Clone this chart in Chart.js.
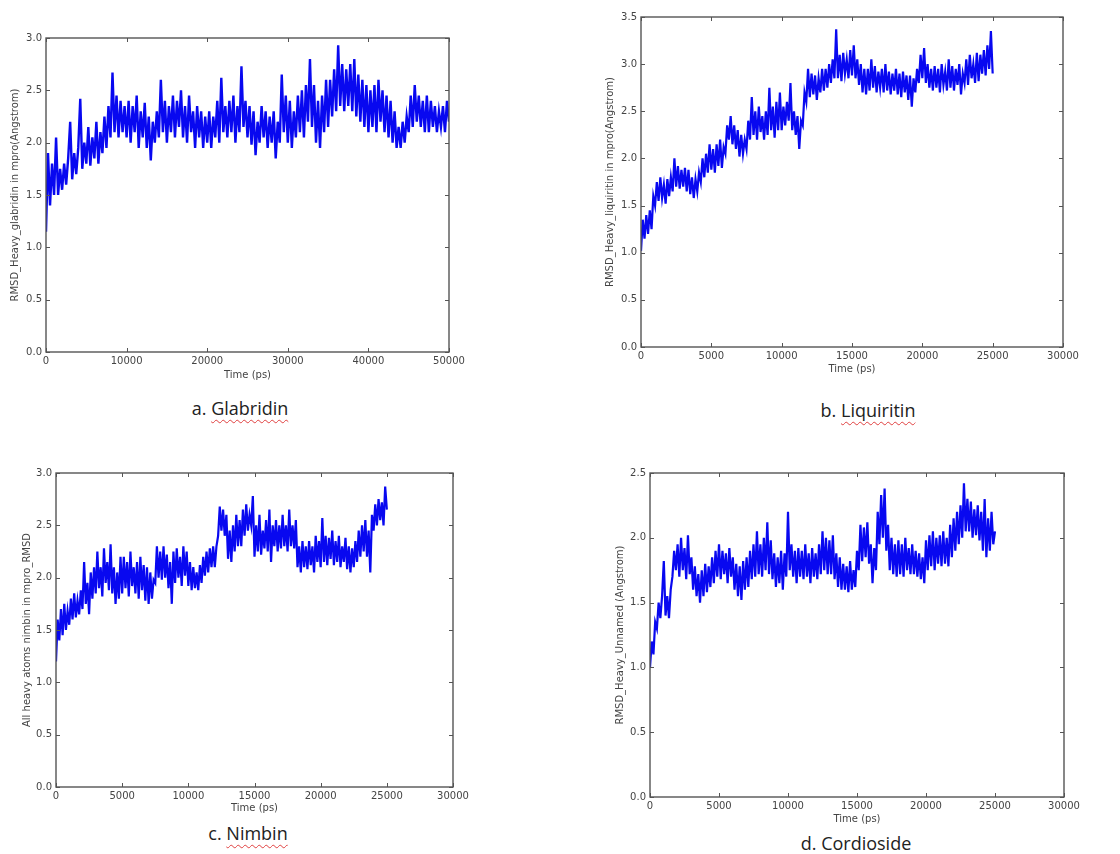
<!DOCTYPE html>
<html>
<head>
<meta charset="utf-8">
<script src="https://cdn.jsdelivr.net/npm/chart.js@4.4.1/dist/chart.umd.min.js"></script>
<style>
  html, body { margin: 0; padding: 0; background: #fff; }
  body { width: 1120px; height: 854px; position: relative; overflow: hidden; }
  canvas { position: absolute; }
  .cap { position: absolute; width: 240px; text-align: center; font-family: "Open Sans", sans-serif; font-size: 18px; line-height: 24px; color: #222; }
  .cap span { text-decoration: underline wavy #e04040; text-decoration-thickness: 1px; text-underline-offset: 4px; }
</style>
</head>
<body>
<canvas id="ca" width="469" height="353" style="left:0px;top:28px"></canvas>
<canvas id="cb" width="488" height="368" style="left:595px;top:7px"></canvas>
<canvas id="cc" width="463" height="351" style="left:10px;top:463px"></canvas>
<canvas id="cd" width="480" height="362" style="left:604px;top:463px"></canvas>
<div class="cap" style="left:120px;top:396px">a. <span>Glabridin</span></div>
<div class="cap" style="left:748px;top:398px">b. <span>Liquiritin</span></div>
<div class="cap" style="left:128px;top:821px">c. <span>Nimbin</span></div>
<div class="cap" style="left:736px;top:831px">d. <span>Cordioside</span></div>
<script>
// ---------- data ----------
// a. Glabridin: RMSD sampled every 250 ps, 0..50000 ps
const glabridinStep = 250;
const glabridinRmsd = [
  1.15,1.9,1.4,1.8,1.5,2.05,1.5,1.75,1.55,1.8,
  1.6,1.85,2.2,1.65,1.9,1.7,1.95,2.42,1.75,2.0,
  1.8,2.15,1.78,2.05,1.85,2.2,1.8,2.1,1.9,2.25,
  1.95,2.35,2.05,2.67,2.1,2.45,2.05,2.4,2.1,2.35,
  2.05,2.4,2.0,2.35,2.1,2.45,1.95,2.3,2.05,2.38,
  1.95,2.25,1.83,2.2,2.0,2.3,2.05,2.6,2.1,2.4,
  2.0,2.35,2.1,2.45,2.05,2.4,2.15,2.5,2.05,2.35,
  2.0,2.45,2.1,2.3,1.95,2.35,2.05,2.3,1.95,2.25,
  2.0,2.3,1.95,2.25,2.05,2.4,2.0,2.62,2.1,2.35,
  2.05,2.4,2.1,2.45,2.0,2.35,2.1,2.73,2.15,2.4,
  2.05,2.35,1.98,2.3,1.88,2.2,2.0,2.35,2.05,2.3,
  1.95,2.25,2.0,2.3,1.85,2.2,2.0,2.65,2.1,2.45,
  2.0,2.4,1.95,2.3,2.05,2.45,2.1,2.5,2.05,2.55,
  2.2,2.8,2.15,2.55,2.0,2.4,1.95,2.45,2.1,2.6,
  2.15,2.6,2.25,2.7,2.3,2.93,2.35,2.75,2.3,2.7,
  2.35,2.75,2.3,2.8,2.25,2.65,2.2,2.6,2.15,2.55,
  2.1,2.5,2.15,2.55,2.1,2.6,2.2,2.5,2.1,2.45,
  2.05,2.4,2.0,2.3,1.95,2.15,1.95,2.2,2.0,2.25,
  2.1,2.45,2.15,2.55,2.2,2.45,2.15,2.4,2.1,2.45,
  2.1,2.4,2.15,2.35,2.1,2.3,2.15,2.35,2.1,2.4,
  2.2
];
// b. Liquiritin: every 125 ps, 0..25000 ps
const liquiritinStep = 125;
const liquiritinRmsd = [
  1.02,1.35,1.15,1.4,1.2,1.45,1.25,1.6,
  1.5,1.75,1.55,1.8,1.58,1.72,1.52,1.78,
  1.6,1.8,1.65,2.0,1.7,1.92,1.68,1.88,
  1.7,1.9,1.65,1.88,1.62,1.8,1.58,1.78,
  1.65,1.85,1.75,2.0,1.8,2.05,1.85,2.15,
  1.88,2.1,1.85,2.15,1.92,2.2,1.9,2.12,
  2.05,2.35,2.2,2.45,2.15,2.35,2.1,2.3,
  2.02,2.25,2.05,2.2,2.1,2.4,2.2,2.65,
  2.25,2.5,2.2,2.55,2.28,2.45,2.2,2.5,
  2.25,2.75,2.3,2.55,2.22,2.6,2.3,2.7,
  2.3,2.55,2.35,2.6,2.4,2.8,2.3,2.5,
  2.25,2.45,2.1,2.4,2.35,2.7,2.6,2.95,
  2.65,2.9,2.68,2.88,2.62,2.85,2.7,2.95,
  2.72,2.95,2.75,3.0,2.8,3.05,2.85,3.37,
  2.85,3.1,2.82,3.12,2.9,3.05,2.85,3.15,
  2.88,3.2,2.85,3.05,2.78,3.0,2.7,2.95,
  2.68,2.95,2.72,3.05,2.75,2.98,2.7,2.92,
  2.75,2.95,2.7,3.0,2.72,2.92,2.68,2.9,
  2.72,2.95,2.68,2.9,2.65,2.92,2.7,2.88,
  2.62,2.88,2.55,2.85,2.7,2.95,2.8,3.1,
  2.85,3.17,2.8,3.0,2.75,2.95,2.72,2.98,
  2.75,2.95,2.7,3.0,2.78,2.92,2.72,3.05,
  2.75,2.98,2.72,2.95,2.78,3.0,2.68,2.9,
  2.8,3.05,2.78,3.1,2.85,3.0,2.8,3.12,
  2.82,3.1,2.9,3.15,2.88,3.2,2.95,3.35,
  2.9
];
// c. Nimbin: every 125 ps, 0..25000 ps
const nimbinStep = 125;
const nimbinRmsd = [
  1.2,1.6,1.4,1.7,1.45,1.75,1.5,1.68,
  1.55,1.8,1.6,1.85,1.62,1.78,1.65,1.88,
  1.7,2.15,1.75,1.95,1.65,2.05,1.8,2.1,
  1.85,2.25,1.9,2.1,1.82,2.28,1.95,2.15,
  1.88,2.32,1.85,2.1,1.75,2.05,1.8,2.2,
  1.85,2.2,1.9,2.15,1.82,2.25,1.92,2.1,
  1.85,2.15,1.8,2.2,1.88,2.12,1.78,2.1,
  1.75,2.05,1.8,1.98,1.95,2.3,2.0,2.25,
  1.98,2.3,2.0,2.22,1.9,2.15,1.75,2.25,
  1.95,2.28,2.0,2.2,1.92,2.3,2.02,2.25,
  1.92,2.15,1.88,2.1,1.9,2.05,1.88,2.12,
  1.95,2.2,2.02,2.25,2.05,2.28,2.1,2.3,
  2.1,2.3,2.4,2.68,2.45,2.65,2.4,2.6,
  2.18,2.45,2.15,2.5,2.25,2.6,2.3,2.55,
  2.3,2.65,2.4,2.7,2.45,2.6,2.5,2.78,
  2.2,2.5,2.25,2.6,2.22,2.45,2.28,2.55,
  2.25,2.65,2.15,2.5,2.3,2.55,2.25,2.5,
  2.28,2.6,2.3,2.5,2.25,2.65,2.3,2.5,
  2.28,2.55,2.1,2.3,2.05,2.35,2.1,2.3,
  2.08,2.35,2.12,2.3,2.05,2.4,2.15,2.35,
  2.1,2.57,2.15,2.4,2.12,2.38,2.18,2.45,
  2.12,2.35,2.15,2.4,2.1,2.3,2.15,2.38,
  2.08,2.3,2.05,2.28,2.1,2.35,2.15,2.45,
  2.2,2.5,2.25,2.55,2.2,2.45,2.05,2.6,
  2.45,2.7,2.5,2.75,2.55,2.72,2.5,2.87,
  2.65
];
// d. Cordioside: every 125 ps, 0..25000 ps
const cordiosideStep = 125;
const cordiosideRmsd = [
  1.0,1.2,1.1,1.35,1.3,1.5,1.38,1.55,
  1.82,1.4,1.55,1.38,1.6,1.7,1.9,1.75,
  1.95,1.7,2.0,1.75,1.92,1.68,2.02,1.72,
  1.85,1.6,1.78,1.55,1.72,1.5,1.75,1.55,
  1.8,1.58,1.78,1.62,1.85,1.65,1.9,1.7,
  1.95,1.68,1.9,1.72,1.88,1.65,1.92,1.7,
  1.85,1.6,1.8,1.55,1.78,1.52,1.82,1.6,
  1.85,1.62,1.9,1.68,1.95,1.7,2.05,1.72,
  1.95,1.7,2.0,1.75,2.12,1.72,1.98,1.68,
  1.88,1.62,1.85,1.65,1.9,1.6,1.88,1.7,
  2.2,1.75,1.95,1.7,1.9,1.65,1.92,1.7,
  1.9,1.68,1.95,1.7,1.88,1.65,1.92,1.7,
  1.88,1.68,1.95,1.72,2.05,1.75,2.0,1.72,
  1.98,1.72,2.02,1.68,1.88,1.62,1.85,1.6,
  1.8,1.6,1.78,1.58,1.82,1.6,1.75,1.62,
  1.9,1.75,2.1,1.82,2.08,1.85,2.12,1.8,
  1.95,1.65,1.92,1.75,2.2,1.95,2.33,2.0,
  2.38,1.9,2.1,1.75,2.0,1.72,1.95,1.7,
  1.98,1.72,1.95,1.7,2.0,1.75,1.92,1.72,
  1.95,1.72,1.9,1.7,1.88,1.68,1.85,1.65,
  1.98,1.75,2.02,1.78,2.05,1.75,2.0,1.8,
  2.02,1.78,2.05,1.8,2.0,1.78,2.1,1.85,
  2.15,1.9,2.2,1.95,2.25,2.0,2.42,2.05,
  2.3,2.05,2.28,2.0,2.22,2.02,2.25,1.98,
  2.2,1.9,2.3,1.85,2.15,1.9,2.2,1.95,
  2.05
];

const xTitle = 'Time (ps)';
const yTitles = [
  'RMSD_Heavy_glabridin in mpro(Angstrom)',
  'RMSD_Heavy_liquiritin in mpro(Angstrom)',
  'All heavy atoms nimbin in mpro_RMSD',
  'RMSD_Heavy_Unnamed (Angstrom)'
];
const yMaxes = [3.0, 3.5, 3.0, 2.5];
const xMaxes = [50000, 30000, 30000, 30000];
const xSteps = [10000, 5000, 5000, 5000];

// ---------- drawing ----------
const AXIS_COLOR = '#555';
const TEXT_COLOR = '#444';
const FONT = { family: 'DejaVu Sans', size: 10 };

const framePlugin = {
  id: 'mplFrame',
  afterDatasetsDraw(chart) {
    const { ctx, chartArea: a, scales } = chart;
    const x = scales.x, y = scales.y;
    ctx.save();
    ctx.strokeStyle = AXIS_COLOR;
    ctx.lineWidth = 1;
    ctx.beginPath();
    x.ticks.forEach(t => {
      const px = Math.round(x.getPixelForValue(t.value)) + 0.5;
      ctx.moveTo(px, a.bottom); ctx.lineTo(px, a.bottom - 4);
      ctx.moveTo(px, a.top); ctx.lineTo(px, a.top + 4);
    });
    y.ticks.forEach(t => {
      const py = Math.round(y.getPixelForValue(t.value)) + 0.5;
      ctx.moveTo(a.left, py); ctx.lineTo(a.left + 4, py);
      ctx.moveTo(a.right, py); ctx.lineTo(a.right - 4, py);
    });
    ctx.stroke();
    ctx.lineWidth = 1.4;
    ctx.strokeRect(a.left, a.top, a.right - a.left, a.bottom - a.top);
    ctx.restore();
  }
};

function makeChart(id, values, step, idx, axisHeight, titlePad, lw) {
  const pts = values.map((v, i) => ({ x: i * step, y: v }));
  return new Chart(document.getElementById(id), {
    type: 'line',
    data: { datasets: [{ data: pts, borderColor: '#0808f0', borderWidth: lw, pointRadius: 0, tension: 0, fill: false, borderJoinStyle: 'miter' }] },
    options: {
      responsive: false,
      animation: false,
      events: [],
      layout: { padding: { top: 10, right: 20, left: 0, bottom: 0 } },
      plugins: { legend: { display: false }, tooltip: { enabled: false } },
      scales: {
        x: {
          type: 'linear', min: 0, max: xMaxes[idx],
          afterFit: s => { s.height = axisHeight; },
          grid: { display: false, drawTicks: false },
          border: { display: false },
          ticks: { stepSize: xSteps[idx], padding: 3, color: TEXT_COLOR, font: FONT, maxRotation: 0, callback: v => String(v) },
          title: { display: true, text: xTitle, color: TEXT_COLOR, font: FONT, padding: 0 }
        },
        y: {
          type: 'linear', min: 0, max: yMaxes[idx],
          afterFit: s => { s.width = 46; },
          grid: { display: false, drawTicks: false },
          border: { display: false },
          ticks: { stepSize: 0.5, padding: 4, color: TEXT_COLOR, font: FONT, callback: v => v.toFixed(1) },
          title: { display: true, text: yTitles[idx], color: TEXT_COLOR, font: FONT, padding: { top: titlePad, bottom: 0 } }
        }
      }
    },
    plugins: [framePlugin]
  });
}

makeChart('ca', glabridinRmsd, glabridinStep, 0, 29, 9, 2.4);
makeChart('cb', liquiritinRmsd, liquiritinStep, 1, 28, 9, 2.2);
makeChart('cc', nimbinRmsd, nimbinStep, 2, 27, 11, 2.2);
makeChart('cd', cordiosideRmsd, cordiosideStep, 3, 28, 10, 2.2);
</script>
</body>
</html>
